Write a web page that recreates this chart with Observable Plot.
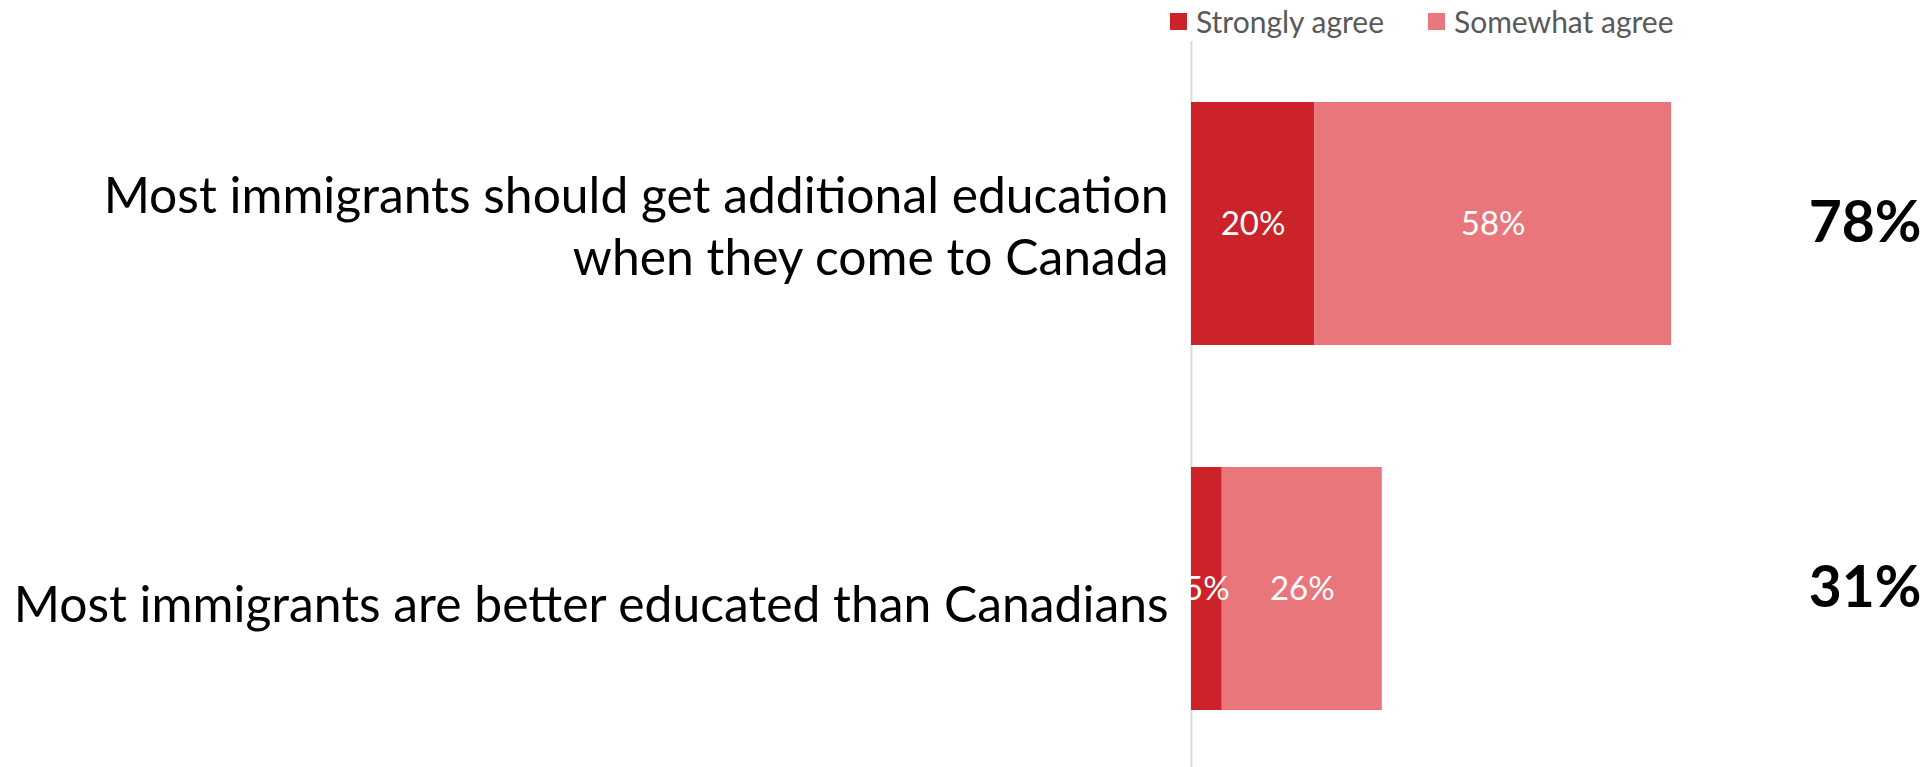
<!DOCTYPE html>
<html>
<head>
<meta charset="utf-8">
<script src="https://cdn.jsdelivr.net/npm/d3@7"></script>
<script src="https://cdn.jsdelivr.net/npm/@observablehq/plot@0.6"></script>
<style>
  html, body { margin: 0; padding: 0; background: #fff; }
  #wrap { position: relative; width: 1931px; height: 767px; overflow: hidden; font-family: Lato, "Open Sans", sans-serif; }
  #legend { position: absolute; top: 0; left: 0; width: 1931px; height: 40px; }
  .item { position: absolute; top: 3px; display: flex; align-items: center; font-size: 30px; color: #595959; white-space: nowrap; }
  .sw { width: 17px; height: 17px; margin-right: 9px; }
  #chart { position: absolute; top: 0; left: 0; }
</style>
</head>
<body>
<div id="wrap">
  <div id="chart"></div>
  <div id="legend"></div>
</div>
<script>
const questions = [
  "Most immigrants should get additional education when they come to Canada",
  "Most immigrants are better educated than Canadians"
];
const questionLabels = [
  "Most immigrants should get additional education\nwhen they come to Canada",
  "Most immigrants are better educated than Canadians"
];
const seriesNames = ["Strongly agree", "Somewhat agree"];
const seriesColors = ["#cc232a", "#e8767a"];
const stronglyAgree = [20, 5];
const somewhatAgree = [58, 26];
const totals = [78, 31];

const rows = [];
questions.forEach((q, i) => {
  rows.push({question: q, series: seriesNames[0], value: stronglyAgree[i]});
  rows.push({question: q, series: seriesNames[1], value: somewhatAgree[i]});
});
const totalRows = questions.map((q, i) => ({question: q, total: totals[i]}));
const labelOf = new Map(questions.map((q, i) => [q, questionLabels[i]]));

const axisOpts = {
  label: null, tickSize: 0, tickPadding: 23, fontSize: 49.8, lineHeight: 1.25,
  textAnchor: "end", fill: "#000",
  tickFormat: d => labelOf.get(d)
};

const chart = Plot.plot({
  width: 1931,
  height: 767,
  marginLeft: 1191,
  marginRight: 124.5,
  marginTop: 41,
  marginBottom: 0,
  style: {fontFamily: "Lato, 'Open Sans', sans-serif", color: "#000", background: "#fff"},
  x: {domain: [0, 100], axis: null},
  y: {domain: questions, paddingInner: 0.334, paddingOuter: 0.1615, align: 0.52, axis: null},
  color: {domain: seriesNames, range: seriesColors},
  marks: [
    Plot.ruleX([0], {stroke: "#d9d9d9", strokeWidth: 2}),
    Plot.barX(rows, Plot.stackX({x: "value", y: "question", fill: "series"})),
    Plot.text(rows, Plot.stackX({
      x: "value", y: "question", z: "series",
      text: d => d.value + "%", fill: "white", fontSize: 33
    })),
    Plot.axisY({...axisOpts, ticks: [questions[0]]}),
    Plot.axisY({...axisOpts, ticks: [questions[1]], dy: 13}),
    Plot.text(totalRows, {
      y: "question", text: d => d.total + "%",
      frameAnchor: "right", textAnchor: "end", dx: 114.5,
      fontWeight: "bold", fontSize: 57, fill: "#000"
    })
  ]
});
document.getElementById("chart").appendChild(chart);

const legend = document.getElementById("legend");
const legendLefts = [1170, 1428];
seriesNames.forEach((name, i) => {
  const item = document.createElement("div");
  item.className = "item";
  item.style.left = legendLefts[i] + "px";
  const sw = document.createElement("span");
  sw.className = "sw";
  sw.style.background = seriesColors[i];
  const t = document.createElement("span");
  t.textContent = name;
  item.appendChild(sw);
  item.appendChild(t);
  legend.appendChild(item);
});
</script>
</body>
</html>
